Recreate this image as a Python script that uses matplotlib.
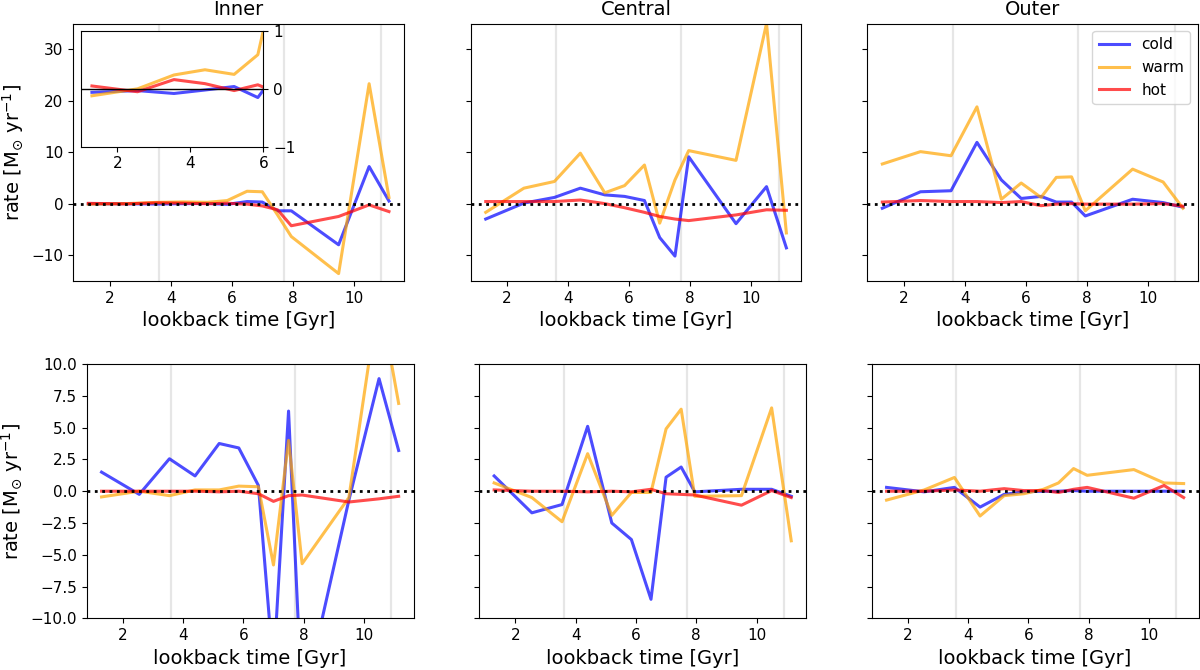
import numpy as np
import matplotlib
matplotlib.use('Agg')
from matplotlib import pyplot as plt

# lookback time of the snapshots [Gyr]
t = [1.3, 2.55, 3.55, 4.4, 5.2, 5.85, 6.5, 7.0, 7.5, 7.95, 9.5, 10.5, 11.15]
# times of the grey markers
t_marks = [3.6, 7.7, 10.9]

regions = ['Inner', 'Central', 'Outer']

# top row
top_cold = [
    [-0.06, -0.03, -0.08, -0.02, 0.04, -0.15, 0.4, 0.3, -1.4, -1.4, -8.0, 7.2, 0.5],
    [-3.0, 0.1, 1.2, 3.0, 1.7, 1.4, 0.6, -6.6, -10.2, 9.1, -3.9, 3.3, -8.6],
    [-0.9, 2.3, 2.5, 11.9, 4.6, 1.0, 1.4, 0.3, 0.3, -2.4, 0.85, 0.2, -0.7],
]
top_warm = [
    [-0.12, 0.0, 0.24, 0.33, 0.25, 0.59, 2.4, 2.3, -2.2, -6.4, -13.6, 23.3, 1.2],
    [-1.7, 3.0, 4.3, 9.8, 2.1, 3.5, 7.5, -3.8, 4.6, 10.3, 8.4, 35.0, -5.7],
    [7.7, 10.1, 9.3, 18.8, 0.85, 4.0, 1.2, 5.1, 5.2, -1.4, 6.7, 4.2, -0.9],
]
top_hot = [
    [0.05, -0.05, 0.16, 0.09, -0.03, 0.07, -0.1, -0.45, -1.2, -4.3, -2.5, -0.25, -1.55],
    [0.4, 0.4, 0.4, 0.7, 0.0, -0.8, -1.7, -2.5, -3.0, -3.3, -2.2, -1.2, -1.3],
    [0.3, 0.6, 0.4, 0.4, 0.2, 0.4, -0.4, -0.1, 0.0, -0.1, -0.1, 0.0, -0.5],
]

# bottom row
bot_cold = [
    [1.5, -0.25, 2.55, 1.2, 3.75, 3.4, 0.45, -14.0, 6.3, -17.0, -0.7, 8.85, 3.2],
    [1.2, -1.7, -1.05, 5.1, -2.5, -3.8, -8.5, 1.1, 1.9, -0.05, 0.15, 0.15, -0.4],
    [0.3, -0.05, 0.3, -1.25, -0.25, -0.05, 0.0, 0.0, 0.05, 0.0, 0.0, 0.0, 0.0],
]
bot_warm = [
    [-0.45, 0.0, -0.35, 0.1, 0.1, 0.4, 0.35, -5.8, 4.0, -5.7, -0.5, 15.5, 6.9],
    [0.65, -0.5, -2.4, 2.95, -1.9, -0.1, -0.1, 4.9, 6.45, -0.4, -0.35, 6.55, -3.9],
    [-0.7, 0.1, 1.08, -1.95, -0.35, -0.2, 0.15, 0.65, 1.78, 1.25, 1.7, 0.65, 0.6],
]
bot_hot = [
    [0.0, 0.0, 0.0, 0.0, -0.05, 0.0, -0.2, -0.8, -0.35, -0.3, -0.85, -0.6, -0.4],
    [0.1, 0.0, 0.0, -0.05, 0.0, -0.05, 0.15, -0.2, -0.25, -0.3, -1.1, 0.05, -0.5],
    [0.0, 0.0, 0.1, 0.0, 0.2, 0.05, 0.05, -0.1, 0.15, 0.3, -0.55, 0.45, -0.5],
]

ylab = r'rate [M$_{\odot}$ yr$^{-1}$]'
xlab = 'lookback time [Gyr]'
W, H = 1200, 670

fig = plt.figure(figsize=(12, 6.7), dpi=100)

top_left = [73.3, 470.7, 867.3]
bot_left = [86.7, 479.3, 871.7]


def draw(ax, cold, warm, hot, legend=False):
    for tm in t_marks:
        ax.axvline(tm, color='0.9', lw=1.6, zorder=0)
    ax.plot(t, cold, color='blue', alpha=0.7, lw=2.2, label='cold')
    ax.plot(t, warm, color='orange', alpha=0.7, lw=2.2, label='warm')
    ax.plot(t, hot, color='red', alpha=0.7, lw=2.2, label='hot')
    ax.axhline(0, color='k', ls=':', lw=2, zorder=5)
    ax.set_xticks([2, 4, 6, 8, 10])
    ax.tick_params(labelsize=11)
    ax.set_xlabel(xlab, fontsize=14)
    if legend:
        ax.legend(loc='upper right', fontsize=11)


for i in range(3):
    ax = fig.add_axes([top_left[i] / W, 389.2 / H, 330.7 / W, 257.3 / H])
    draw(ax, top_cold[i], top_warm[i], top_hot[i], legend=(i == 2))
    ax.set_ylim(-15, 35)
    ax.set_yticks([-10, 0, 10, 20, 30])
    ax.set_title(regions[i], fontsize=14)
    if i == 0:
        ax.set_ylabel(ylab, fontsize=14)
    else:
        ax.tick_params(labelleft=False)

for i in range(3):
    ax = fig.add_axes([bot_left[i] / W, 51.6 / H, 326.8 / W, 254.4 / H])
    draw(ax, bot_cold[i], bot_warm[i], bot_hot[i])
    ax.set_ylim(-10, 10)
    ax.set_yticks(np.arange(-10, 10.1, 2.5))
    if i == 0:
        ax.set_ylabel(ylab, fontsize=14)
    else:
        ax.tick_params(labelleft=False)

# zoom-in of the early inner evolution
ins = fig.add_axes([81 / W, 523.3 / H, 182.3 / W, 115.7 / H])
ins.plot(t, top_cold[0], color='blue', alpha=0.7, lw=2.2)
ins.plot(t, top_warm[0], color='orange', alpha=0.7, lw=2.2)
ins.plot(t, top_hot[0], color='red', alpha=0.7, lw=2.2)
ins.axhline(0, color='k', lw=1)
ins.set_xlim(1, 6)
ins.set_ylim(-1, 1)
ins.set_xticks([2, 4, 6])
ins.set_yticks([-1, 0, 1])
ins.yaxis.tick_right()
ins.tick_params(labelsize=11)

plt.savefig('out.png', dpi=100)
